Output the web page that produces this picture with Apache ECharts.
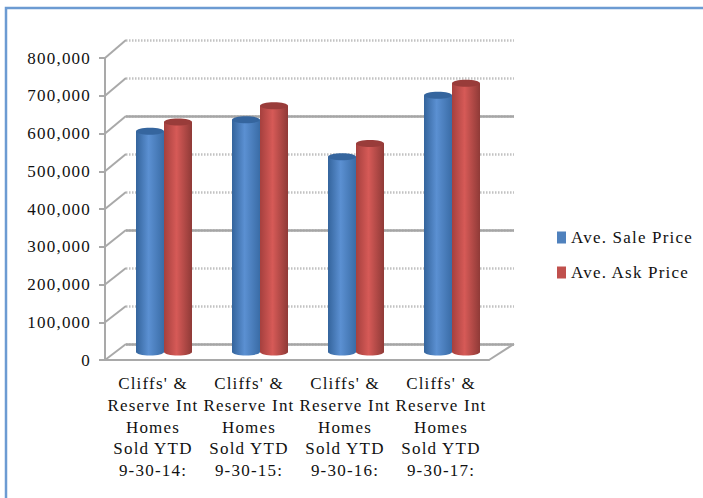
<!DOCTYPE html>
<html>
<head>
<meta charset="utf-8">
<style>
html, body { margin: 0; padding: 0; background: #fff; }
#chart { width: 703px; height: 498px; }
#chart svg text { letter-spacing: 1.2px; }
</style>
<script src="https://cdn.jsdelivr.net/npm/echarts@6/dist/echarts.min.js"></script>
</head>
<body>
<div id="chart"></div>
<script>
const categories = [
  "Cliffs' &\nReserve Int\nHomes\nSold YTD\n9-30-14:",
  "Cliffs' &\nReserve Int\nHomes\nSold YTD\n9-30-15:",
  "Cliffs' &\nReserve Int\nHomes\nSold YTD\n9-30-16:",
  "Cliffs' &\nReserve Int\nHomes\nSold YTD\n9-30-17:"
];
const salePrice = [585000, 615000, 517000, 680000];
const askPrice = [609000, 652000, 552000, 712000];
const axisTicks = [0, 100000, 200000, 300000, 400000, 500000, 600000, 700000, 800000];

const FONT = '"Liberation Serif", "Times New Roman", serif';
const AXIS_GREY = '#a9a9a9';
const BAR_WIDTH = 28;
const CAP_HEIGHT = 7;

function cylinderFill(edgeL, mid, edgeR) {
  return {
    type: 'linear', x: 0, y: 0, x2: 1, y2: 0,
    colorStops: [
      { offset: 0, color: edgeL },
      { offset: 0.45, color: mid },
      { offset: 1, color: edgeR }
    ]
  };
}

// One cylinder set: the body as a bar, with elliptical cap and foot drawn on the same scales
function cylinderSeries(name, values, fill, capColor, side) {
  return [
    {
      name, type: 'bar', data: values, xAxisIndex: 1, yAxisIndex: 2,
      barWidth: BAR_WIDTH, barGap: 0, z: 3, itemStyle: { color: fill }
    },
    {
      name, type: 'custom', xAxisIndex: 1, yAxisIndex: 2, z: 4, silent: true,
      data: values.map((v, i) => [i, v]),
      renderItem(params, api) {
        const top = api.coord([api.value(0), api.value(1)]);
        const foot = api.coord([api.value(0), 0]);
        const cx = top[0] + side * BAR_WIDTH / 2;
        const ellipse = (cy, style, z2) => ({
          type: 'ellipse', z2,
          shape: { cx, cy, rx: BAR_WIDTH / 2, ry: CAP_HEIGHT / 2 },
          style
        });
        return {
          type: 'group',
          children: [
            ellipse(foot[1], { fill }, 1),
            ellipse(top[1], { fill: capColor }, 2)
          ]
        };
      }
    }
  ];
}

const hiddenCat = { type: 'category', data: categories, show: false };
const hiddenVal = { type: 'value', min: 0, max: 800000, interval: 100000, show: false };

const chart = echarts.init(document.getElementById('chart'), null, { renderer: 'svg' });

chart.setOption({
  animation: false,
  backgroundColor: '#fff',
  grid: [
    { left: 126, top: 40, width: 388, height: 304 }, // back wall
    { left: 116, top: 50, width: 384, height: 302 }, // plane of the cylinders
    { left: 105, top: 58, width: 384, height: 302 }  // front axes
  ],
  xAxis: [
    Object.assign({ gridIndex: 0 }, hiddenCat),
    Object.assign({ gridIndex: 1 }, hiddenCat),
    {
      gridIndex: 2, type: 'category', data: categories, z: 5,
      axisLine: { lineStyle: { color: AXIS_GREY, width: 2 } },
      axisTick: { length: 5, lineStyle: { color: AXIS_GREY, width: 2 } },
      axisLabel: {
        interval: 0, margin: 13, color: '#111',
        fontFamily: FONT, fontSize: 17, lineHeight: 21.6
      }
    }
  ],
  yAxis: [
    {
      gridIndex: 0, type: 'value', min: 0, max: 800000, interval: 100000,
      axisLine: { show: false }, axisTick: { show: false }, axisLabel: { show: false },
      splitLine: { show: true, lineStyle: { color: '#c2c2c2', width: 2.5, type: [1.5, 1.5] } }
    },
    {
      gridIndex: 0, type: 'value', min: 0, max: 800000, interval: 300000,
      axisLine: { show: false }, axisTick: { show: false }, axisLabel: { show: false },
      splitLine: { show: true, showMaxLine: false, lineStyle: { color: '#a6a6a6', width: 2.5 } }
    },
    Object.assign({ gridIndex: 1 }, hiddenVal),
    {
      gridIndex: 2, type: 'value', min: 0, max: 800000, interval: 100000, z: 5,
      splitLine: { show: false },
      axisLine: { show: true, lineStyle: { color: AXIS_GREY, width: 2 } },
      axisTick: { show: true, length: 6, lineStyle: { color: AXIS_GREY, width: 2 } },
      axisLabel: {
        margin: 14, color: '#111', fontFamily: FONT, fontSize: 17,
        formatter: v => v.toLocaleString('en-US')
      }
    }
  ],
  legend: {
    orient: 'vertical', left: 557, top: 229, padding: 0,
    itemWidth: 9, itemHeight: 12, itemGap: 18, icon: 'rect',
    textStyle: { fontFamily: FONT, fontSize: 17, color: '#111' },
    selectedMode: false,
    data: [
      { name: 'Ave. Sale Price', itemStyle: { color: '#4f81bd' } },
      { name: 'Ave. Ask Price', itemStyle: { color: '#c0504d' } }
    ]
  },
  series: [
    ...cylinderSeries('Ave. Sale Price', salePrice,
      cylinderFill('#34649c', '#5b90d2', '#3a6ca6'), '#35659e', -1),
    ...cylinderSeries('Ave. Ask Price', askPrice,
      cylinderFill('#a5403e', '#d65a57', '#8f3a37'), '#993c3a', 1)
  ]
});

// Depth connectors between the front axes and the back wall, plus the page frame
const connectors = axisTicks.map(v => {
  const front = chart.convertToPixel({ yAxisIndex: 3 }, v);
  const back = chart.convertToPixel({ yAxisIndex: 0 }, v);
  return { x1: 105, y1: front, x2: 126, y2: back };
});
const floorY = chart.convertToPixel({ yAxisIndex: 3 }, 0);
const wallY = chart.convertToPixel({ yAxisIndex: 0 }, 0);
connectors.push({ x1: 489, y1: floorY, x2: 514, y2: wallY });

chart.setOption({
  graphic: [
    ...connectors.map(shape => ({
      type: 'line', shape, z: 1, silent: true,
      style: { stroke: AXIS_GREY, lineWidth: 2 }
    })),
    {
      type: 'polyline', z: 10, silent: true,
      shape: { points: [[6, 498], [6, 8], [703, 8]] },
      style: { stroke: '#6c9bd2', lineWidth: 2.5, fill: 'none' }
    }
  ]
});
</script>
</body>
</html>
